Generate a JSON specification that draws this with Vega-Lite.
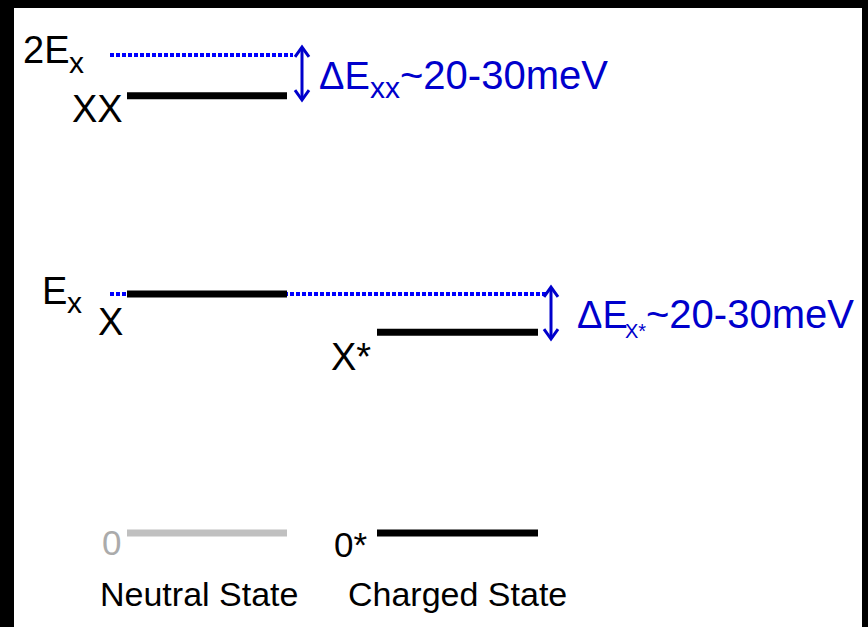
{
  "$schema": "https://vega.github.io/schema/vega-lite/v6.json",
  "width": 848,
  "height": 619,
  "autosize": {"type": "none"},
  "padding": {"left": 14, "top": 8, "right": 6, "bottom": 0},
  "background": "black",
  "config": {"view": {"stroke": null, "fill": "white"}, "text": {"font": "Liberation Sans", "align": "left", "baseline": "alphabetic"}},
  "datasets": {
    "dotted": [
      {"x": 96, "x2": 279, "E": 200},
      {"x": 96, "x2": 534, "E": 100}
    ],
    "levels": [
      {"state": "XX", "x": 113, "x2": 273, "E": 183},
      {"state": "X", "x": 113, "x2": 273, "E": 100},
      {"state": "X*", "x": 363, "x2": 524, "E": 84},
      {"state": "0*", "x": 363, "x2": 524, "E": 0}
    ],
    "ground": [
      {"state": "0", "x": 113, "x2": 273, "E": 0}
    ],
    "shafts": [
      {"x": 288, "E": 202.5, "E2": 182},
      {"x": 537, "E": 102, "E2": 82}
    ],
    "heads_up": [
      {"x": 288, "E": 203.3},
      {"x": 537, "E": 102.9}
    ],
    "heads_down": [
      {"x": 288, "E": 181.2},
      {"x": 537, "E": 81.2}
    ],
    "black_big": [
      {"x": 9, "E": 196.7, "t": "2E"},
      {"x": 58, "E": 172, "t": "XX"},
      {"x": 28, "E": 95.8, "t": "E"},
      {"x": 84, "E": 82.8, "t": "X"},
      {"x": 317, "E": 68.2, "t": "X*"}
    ],
    "black_sub": [
      {"x": 55, "E": 192.5, "t": "x"},
      {"x": 53, "E": 92, "t": "x"}
    ],
    "blue_delta": [
      {"x": 305, "E": 185.8, "t": "ΔE"},
      {"x": 563, "E": 85.8, "t": "ΔE"}
    ],
    "blue_range": [
      {"x": 386, "E": 185.8, "t": "~20-30meV"},
      {"x": 632, "E": 85.8, "t": "~20-30meV"}
    ],
    "blue_sub": [
      {"x": 356, "E": 182, "t": "xx"}
    ],
    "blue_sub2": [
      {"x": 611, "E": 81.6, "t": "X*"}
    ],
    "zero_grey": [
      {"x": 88, "E": -9.2, "t": "0"}
    ],
    "zero_black": [
      {"x": 320, "E": -10, "t": "0*"}
    ],
    "labels": [
      {"x": 86, "E": -30.5, "t": "Neutral State"},
      {"x": 334, "E": -30.5, "t": "Charged State"}
    ]
  },
  "encoding": {
    "x": {"field": "x", "type": "quantitative", "scale": {"domain": [0, 848]}, "axis": null},
    "y": {"field": "E", "type": "quantitative", "scale": {"domain": [-39.3, 219.7]}, "axis": null}
  },
  "layer": [
    {"data": {"name": "dotted"}, "mark": {"type": "rule", "stroke": "#0000ff", "strokeWidth": 4, "strokeDash": [4, 2]},
     "encoding": {"x2": {"field": "x2"}}},
    {"data": {"name": "levels"}, "mark": {"type": "rule", "stroke": "black", "strokeWidth": 7},
     "encoding": {"x2": {"field": "x2"}}},
    {"data": {"name": "ground"}, "mark": {"type": "rule", "stroke": "#c0c0c0", "strokeWidth": 7},
     "encoding": {"x2": {"field": "x2"}}},
    {"data": {"name": "shafts"}, "mark": {"type": "rule", "stroke": "#0000cc", "strokeWidth": 3},
     "encoding": {"y2": {"field": "E2"}}},
    {"data": {"name": "heads_up"}, "mark": {"type": "point", "shape": "M-1,1.4L0,0L1,1.4", "size": 196, "filled": false, "stroke": "#0000cc", "strokeWidth": 3, "opacity": 1}},
    {"data": {"name": "heads_down"}, "mark": {"type": "point", "shape": "M-1,-1.4L0,0L1,-1.4", "size": 196, "filled": false, "stroke": "#0000cc", "strokeWidth": 3, "opacity": 1}},
    {"data": {"name": "black_big"}, "mark": {"type": "text", "fontSize": 38, "color": "black"},
     "encoding": {"text": {"field": "t"}}},
    {"data": {"name": "black_sub"}, "mark": {"type": "text", "fontSize": 30, "color": "black"},
     "encoding": {"text": {"field": "t"}}},
    {"data": {"name": "blue_delta"}, "mark": {"type": "text", "fontSize": 38, "color": "#0000cc"},
     "encoding": {"text": {"field": "t"}}},
    {"data": {"name": "blue_range"}, "mark": {"type": "text", "fontSize": 40, "color": "#0000cc"},
     "encoding": {"text": {"field": "t"}}},
    {"data": {"name": "blue_sub"}, "mark": {"type": "text", "fontSize": 30, "color": "#0000cc"},
     "encoding": {"text": {"field": "t"}}},
    {"data": {"name": "blue_sub2"}, "mark": {"type": "text", "fontSize": 20, "color": "#0000cc"},
     "encoding": {"text": {"field": "t"}}},
    {"data": {"name": "zero_grey"}, "mark": {"type": "text", "fontSize": 35, "color": "#ababab"},
     "encoding": {"text": {"field": "t"}}},
    {"data": {"name": "zero_black"}, "mark": {"type": "text", "fontSize": 35, "color": "black"},
     "encoding": {"text": {"field": "t"}}},
    {"data": {"name": "labels"}, "mark": {"type": "text", "fontSize": 34, "color": "black"},
     "encoding": {"text": {"field": "t"}}}
  ]
}
